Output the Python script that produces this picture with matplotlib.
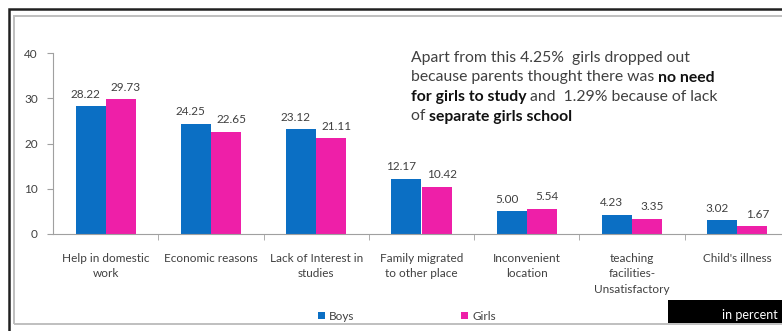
import matplotlib
matplotlib.use('Agg')
import matplotlib.pyplot as plt
import numpy as np
from matplotlib.patches import Rectangle

# ── Data ──────────────────────────────────────────────────────────────────────
categories = ["Help in domestic\nwork", "Economic reasons", "Lack of Interest in\nstudies",
              "Family migrated\nto other place", "Inconvenient\nlocation",
              "teaching\nfacilities-\nUnsatisfactory", "Child's illness"]
boys  = [28.22, 24.25, 23.12, 12.17, 5.00, 4.23, 3.02]
girls = [29.73, 22.65, 21.11, 10.42, 5.54, 3.35, 1.67]
yticks = [0, 10, 20, 30, 40]

BLUE = '#0b6fc4'
PINK = '#ee1fa8'
TXT = '#404040'

plt.rcParams['font.family'] = ['Lato', 'DejaVu Sans']

W, H = 782, 331
fig = plt.figure(figsize=(W / 100, H / 100), dpi=100)

# ── Frame borders ─────────────────────────────────────────────────────────────
def px(x0, y0, x1, y1):
    return (x0 / W, 1 - y1 / H, (x1 - x0) / W, (y1 - y0) / H)

x, y, w, h = px(9, 9, 800, 340)
fig.patches.append(Rectangle((x, y), w, h, transform=fig.transFigure,
                             fill=False, ec='#202020', lw=1.8))
x, y, w, h = px(14, 16, 800, 324)
fig.patches.append(Rectangle((x, y), w, h, transform=fig.transFigure,
                             fill=False, ec='#bfbfbf', lw=1.4))

# ── Axes ──────────────────────────────────────────────────────────────────────
ax = fig.add_axes([53 / W, 97 / H, (790 - 53) / W, (278 - 97) / H])
ax.patch.set_alpha(0)
xs = np.arange(len(categories))
bw = 0.285
ax.bar(xs - bw / 2, boys, bw, color=BLUE, label='Boys')
ax.bar(xs + bw / 2, girls, bw, color=PINK, label='Girls')

for i in xs:
    ax.text(i - bw / 2 - 0.05, boys[i] + 1.5, f"{boys[i]:.2f}", ha='center', va='bottom',
            fontsize=8.5, color=TXT)
    ax.text(i + bw / 2 + 0.05, girls[i] + 1.5, f"{girls[i]:.2f}", ha='center', va='bottom',
            fontsize=8.5, color=TXT)

ax.set_xlim(-0.5, len(categories) - 0.5)
ax.set_ylim(0, 40)
ax.set_yticks(yticks)
ax.set_yticklabels([str(t) for t in yticks], fontsize=8.5, color=TXT)
ax.tick_params(axis='y', length=4, color='#a0a0a0', pad=7)
ax.set_xticks(xs)
ax.set_xticklabels(categories, fontsize=8.5, color=TXT, linespacing=1.45)
ax.tick_params(axis='x', length=0, pad=14)
ax.set_xticks(np.arange(0.5, len(categories) - 0.5), minor=True)
ax.tick_params(axis='x', which='minor', length=4, color='#a0a0a0')
for s in ['top', 'right']:
    ax.spines[s].set_visible(False)
ax.spines['left'].set_color('#a0a0a0')
ax.spines['bottom'].set_color('#a0a0a0')

# ── Annotation text with bold segments ───────────────────────────────────────
lines = [
    [("Apart from this 4.25%  girls dropped out", 'normal')],
    [("because parents thought there was ", 'normal'), ("no need", 'bold')],
    [("for girls to study", 'bold'), (" and  1.29% because of lack", 'normal')],
    [("of ", 'normal'), ("separate girls school", 'bold')],
]
renderer = fig.canvas.get_renderer()
y0 = 58
for line in lines:
    xpos = 411
    for seg, wt in line:
        t = fig.text(xpos / W, 1 - y0 / H, seg, fontsize=11.3, fontweight=wt,
                     color='#404040' if wt == 'normal' else '#111111',
                     ha='left', va='center')
        xpos += t.get_window_extent(renderer).width
    y0 += 19.5

# ── Legend ────────────────────────────────────────────────────────────────────
fig.legend(handles=[ax.containers[0], ax.containers[1]],
           labels=['Boys', 'Girls'], loc='center', bbox_to_anchor=(407 / W, 1 - 316 / H),
           ncol=2, frameon=False, fontsize=8.5, handlelength=0.6, handleheight=0.6,
           columnspacing=9, handletextpad=0.4, labelcolor=TXT)

# ── "in percent" box ─────────────────────────────────────────────────────────
x, y, w, h = px(668, 300, 790, 323)
fig.patches.append(Rectangle((x, y), w, h, transform=fig.transFigure,
                             fc='black', ec='none'))
fig.text(778 / W, 1 - 315 / H, "in percent", color='white', fontsize=9,
         ha='right', va='center')

plt.savefig('out.png', dpi=100)
